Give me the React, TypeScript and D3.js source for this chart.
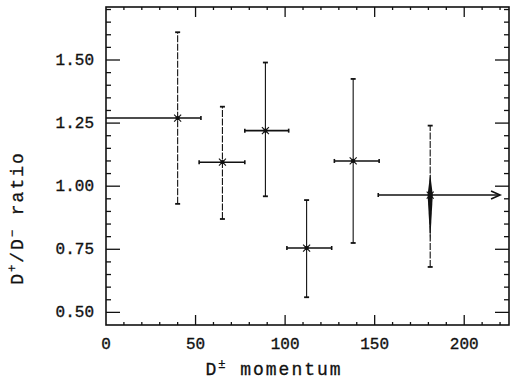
import * as d3 from "d3";
import { useEffect, useRef } from "react";

// D* momentum bins and D+/D- ratio
const momentum = [40, 65, 89, 112, 138, 181];
const momLow = [0, 52, 77.5, 101, 127.5, 152];
const momHigh = [53, 77.5, 102, 126, 152.5, 220];
const ratio = [1.27, 1.095, 1.22, 0.755, 1.1, 0.965];
const ratioLow = [0.93, 0.87, 0.96, 0.56, 0.775, 0.68];
const ratioHigh = [1.61, 1.315, 1.49, 0.945, 1.425, 1.24];
const openEnded = [false, false, false, false, false, true];

const xTicks = [0, 50, 100, 150, 200];
const yTicks = [0.5, 0.75, 1.0, 1.25, 1.5];

export default function App() {
  const ref = useRef<SVGSVGElement>(null);

  useEffect(() => {
    if (!ref.current) return;
    document.body.style.margin = "0";

    const svg = d3.select(ref.current);
    svg.selectAll("*").remove();

    const x = d3.scaleLinear().domain([0, 225]).range([106, 509]);
    const y = d3.scaleLinear().domain([0.45, 1.71]).range([325, 7]);

    const ink = "#111";
    const font = "'Liberation Mono', 'DejaVu Sans Mono', monospace";

    // -----------------------------
    // Frame
    const [x0, x1] = x.range();
    const [y0, y1] = y.range();
    svg
      .append("rect")
      .attr("x", x0)
      .attr("y", y1)
      .attr("width", x1 - x0)
      .attr("height", y0 - y1)
      .attr("fill", "none")
      .attr("stroke", ink)
      .attr("stroke-width", 1.6);

    // -----------------------------
    // Ticks (major + minor), inward on all four sides
    const yMinor = d3.range(0.5, 1.701, 0.05);
    const xMinor = d3.range(10, 221, 10);
    const isMajorY = (v: number) => yTicks.some((t) => Math.abs(t - v) < 1e-6);
    const isMajorX = (v: number) => v % 50 === 0;

    const tickG = svg.append("g").attr("stroke", ink).attr("stroke-width", 1.3);

    tickG
      .selectAll(".yl")
      .data(yMinor)
      .join("line")
      .attr("x1", x0)
      .attr("x2", (d) => x0 + (isMajorY(d) ? 14 : 5))
      .attr("y1", (d) => y(d))
      .attr("y2", (d) => y(d));

    tickG
      .selectAll(".yr")
      .data(yMinor)
      .join("line")
      .attr("x1", x1)
      .attr("x2", (d) => x1 - (isMajorY(d) ? 14 : 5))
      .attr("y1", (d) => y(d))
      .attr("y2", (d) => y(d));

    tickG
      .selectAll(".xb")
      .data(xMinor)
      .join("line")
      .attr("x1", (d) => x(d))
      .attr("x2", (d) => x(d))
      .attr("y1", y0)
      .attr("y2", (d) => y0 - (isMajorX(d) ? 10 : 3));

    tickG
      .selectAll(".xt")
      .data(xMinor)
      .join("line")
      .attr("x1", (d) => x(d))
      .attr("x2", (d) => x(d))
      .attr("y1", y1)
      .attr("y2", (d) => y1 + (isMajorX(d) ? 10 : 3));

    // -----------------------------
    // Tick labels
    svg
      .append("g")
      .selectAll("text")
      .data(xTicks)
      .join("text")
      .attr("x", (d) => x(d))
      .attr("y", 349)
      .attr("text-anchor", "middle")
      .style("font-family", font)
      .style("font-size", "16px")
      .attr("fill", ink)
      .attr("stroke", ink)
      .attr("stroke-width", 0.35)
      .text((d) => d);

    svg
      .append("g")
      .selectAll("text")
      .data(yTicks)
      .join("text")
      .attr("x", 94)
      .attr("y", (d) => y(d) + 5)
      .attr("text-anchor", "end")
      .style("font-family", font)
      .style("font-size", "16px")
      .attr("fill", ink)
      .attr("stroke", ink)
      .attr("stroke-width", 0.35)
      .text((d) => d.toFixed(2));

    // -----------------------------
    // Axis titles
    const xt = svg
      .append("text")
      .attr("x", 274)
      .attr("y", 375)
      .attr("text-anchor", "middle")
      .style("font-family", font)
      .style("font-size", "18px")
      .style("letter-spacing", "2px")
      .attr("fill", ink)
      .attr("stroke", ink)
      .attr("stroke-width", 0.3);
    xt.append("tspan").text("D");
    xt.append("tspan").attr("dy", -7).style("font-size", "12px").text("±");
    xt.append("tspan").attr("dy", 7).text(" momentum");

    const yt = svg
      .append("text")
      .attr("transform", `translate(23,${218}) rotate(-90)`)
      .attr("text-anchor", "middle")
      .style("font-family", font)
      .style("font-size", "18px")
      .style("letter-spacing", "2px")
      .attr("fill", ink)
      .attr("stroke", ink)
      .attr("stroke-width", 0.3);
    yt.append("tspan").text("D");
    yt.append("tspan").attr("dy", -7).style("font-size", "12px").text("+");
    yt.append("tspan").attr("dy", 7).text("/D");
    yt.append("tspan").attr("dy", -7).style("font-size", "12px").text("−");
    yt.append("tspan").attr("dy", 7).text(" ratio");

    // -----------------------------
    // Error bars
    const idx = d3.range(momentum.length);
    const pts = svg.append("g").attr("stroke", ink).attr("fill", "none");

    // vertical bars
    pts
      .selectAll(".vbar")
      .data(idx)
      .join("line")
      .attr("x1", (i) => x(momentum[i]))
      .attr("x2", (i) => x(momentum[i]))
      .attr("y1", (i) => y(ratioLow[i]))
      .attr("y2", (i) => y(ratioHigh[i]))
      .attr("stroke-width", 1.1)
      .attr("stroke-dasharray", (i) => (i === 0 || i === 1 || i === 5 ? "7,1.5" : null));

    // end caps on vertical bars
    idx.forEach((i) => {
      [ratioLow[i], ratioHigh[i]].forEach((v) => {
        pts
          .append("line")
          .attr("x1", x(momentum[i]) - 2.5)
          .attr("x2", x(momentum[i]) + 2.5)
          .attr("y1", y(v))
          .attr("y2", y(v))
          .attr("stroke-width", 1.8);
      });
    });

    // horizontal bars
    pts
      .selectAll(".hbar")
      .data(idx)
      .join("line")
      .attr("x1", (i) => x(momLow[i]))
      .attr("x2", (i) => x(momHigh[i]))
      .attr("y1", (i) => y(ratio[i]))
      .attr("y2", (i) => y(ratio[i]))
      .attr("stroke-width", 1.6);

    // end caps on horizontal bars (or an arrow for the open last bin)
    idx.forEach((i) => {
      const yy = y(ratio[i]);
      if (momLow[i] > 0) {
        pts
          .append("line")
          .attr("x1", x(momLow[i]))
          .attr("x2", x(momLow[i]))
          .attr("y1", yy - 2)
          .attr("y2", yy + 2)
          .attr("stroke-width", 1.6);
      }
      if (openEnded[i]) {
        const xe = x(momHigh[i]);
        pts
          .append("path")
          .attr("d", `M${xe - 9},${yy - 4} L${xe},${yy} L${xe - 9},${yy + 4}`)
          .attr("stroke-width", 1.6);
      } else {
        pts
          .append("line")
          .attr("x1", x(momHigh[i]))
          .attr("x2", x(momHigh[i]))
          .attr("y1", yy - 2)
          .attr("y2", yy + 2)
          .attr("stroke-width", 1.6);
      }
    });

    // asterisk markers
    idx.forEach((i) => {
      const cx = x(momentum[i]);
      const cy = y(ratio[i]);
      const r = 3.5;
      const m = pts.append("g").attr("stroke-width", 1.1);
      m.append("line").attr("x1", cx - r).attr("x2", cx + r).attr("y1", cy - r).attr("y2", cy + r);
      m.append("line").attr("x1", cx - r).attr("x2", cx + r).attr("y1", cy + r).attr("y2", cy - r);
      m.append("circle").attr("cx", cx).attr("cy", cy).attr("r", 1.6).attr("fill", ink);
    });

    // thick spindle on the last point
    const last = momentum.length - 1;
    const sx = x(momentum[last]);
    const sy = y(ratio[last]);
    const sTop = y(1.05);
    const sBot = y(0.78);
    svg
      .append("path")
      .attr("d", `M${sx},${sTop} L${sx + 2.6},${sy} L${sx},${sBot} L${sx - 2.6},${sy} Z`)
      .attr("fill", ink);
  }, []);

  return <svg ref={ref} width={514} height={383} style={{ display: "block", background: "#fff" }} />;
}
